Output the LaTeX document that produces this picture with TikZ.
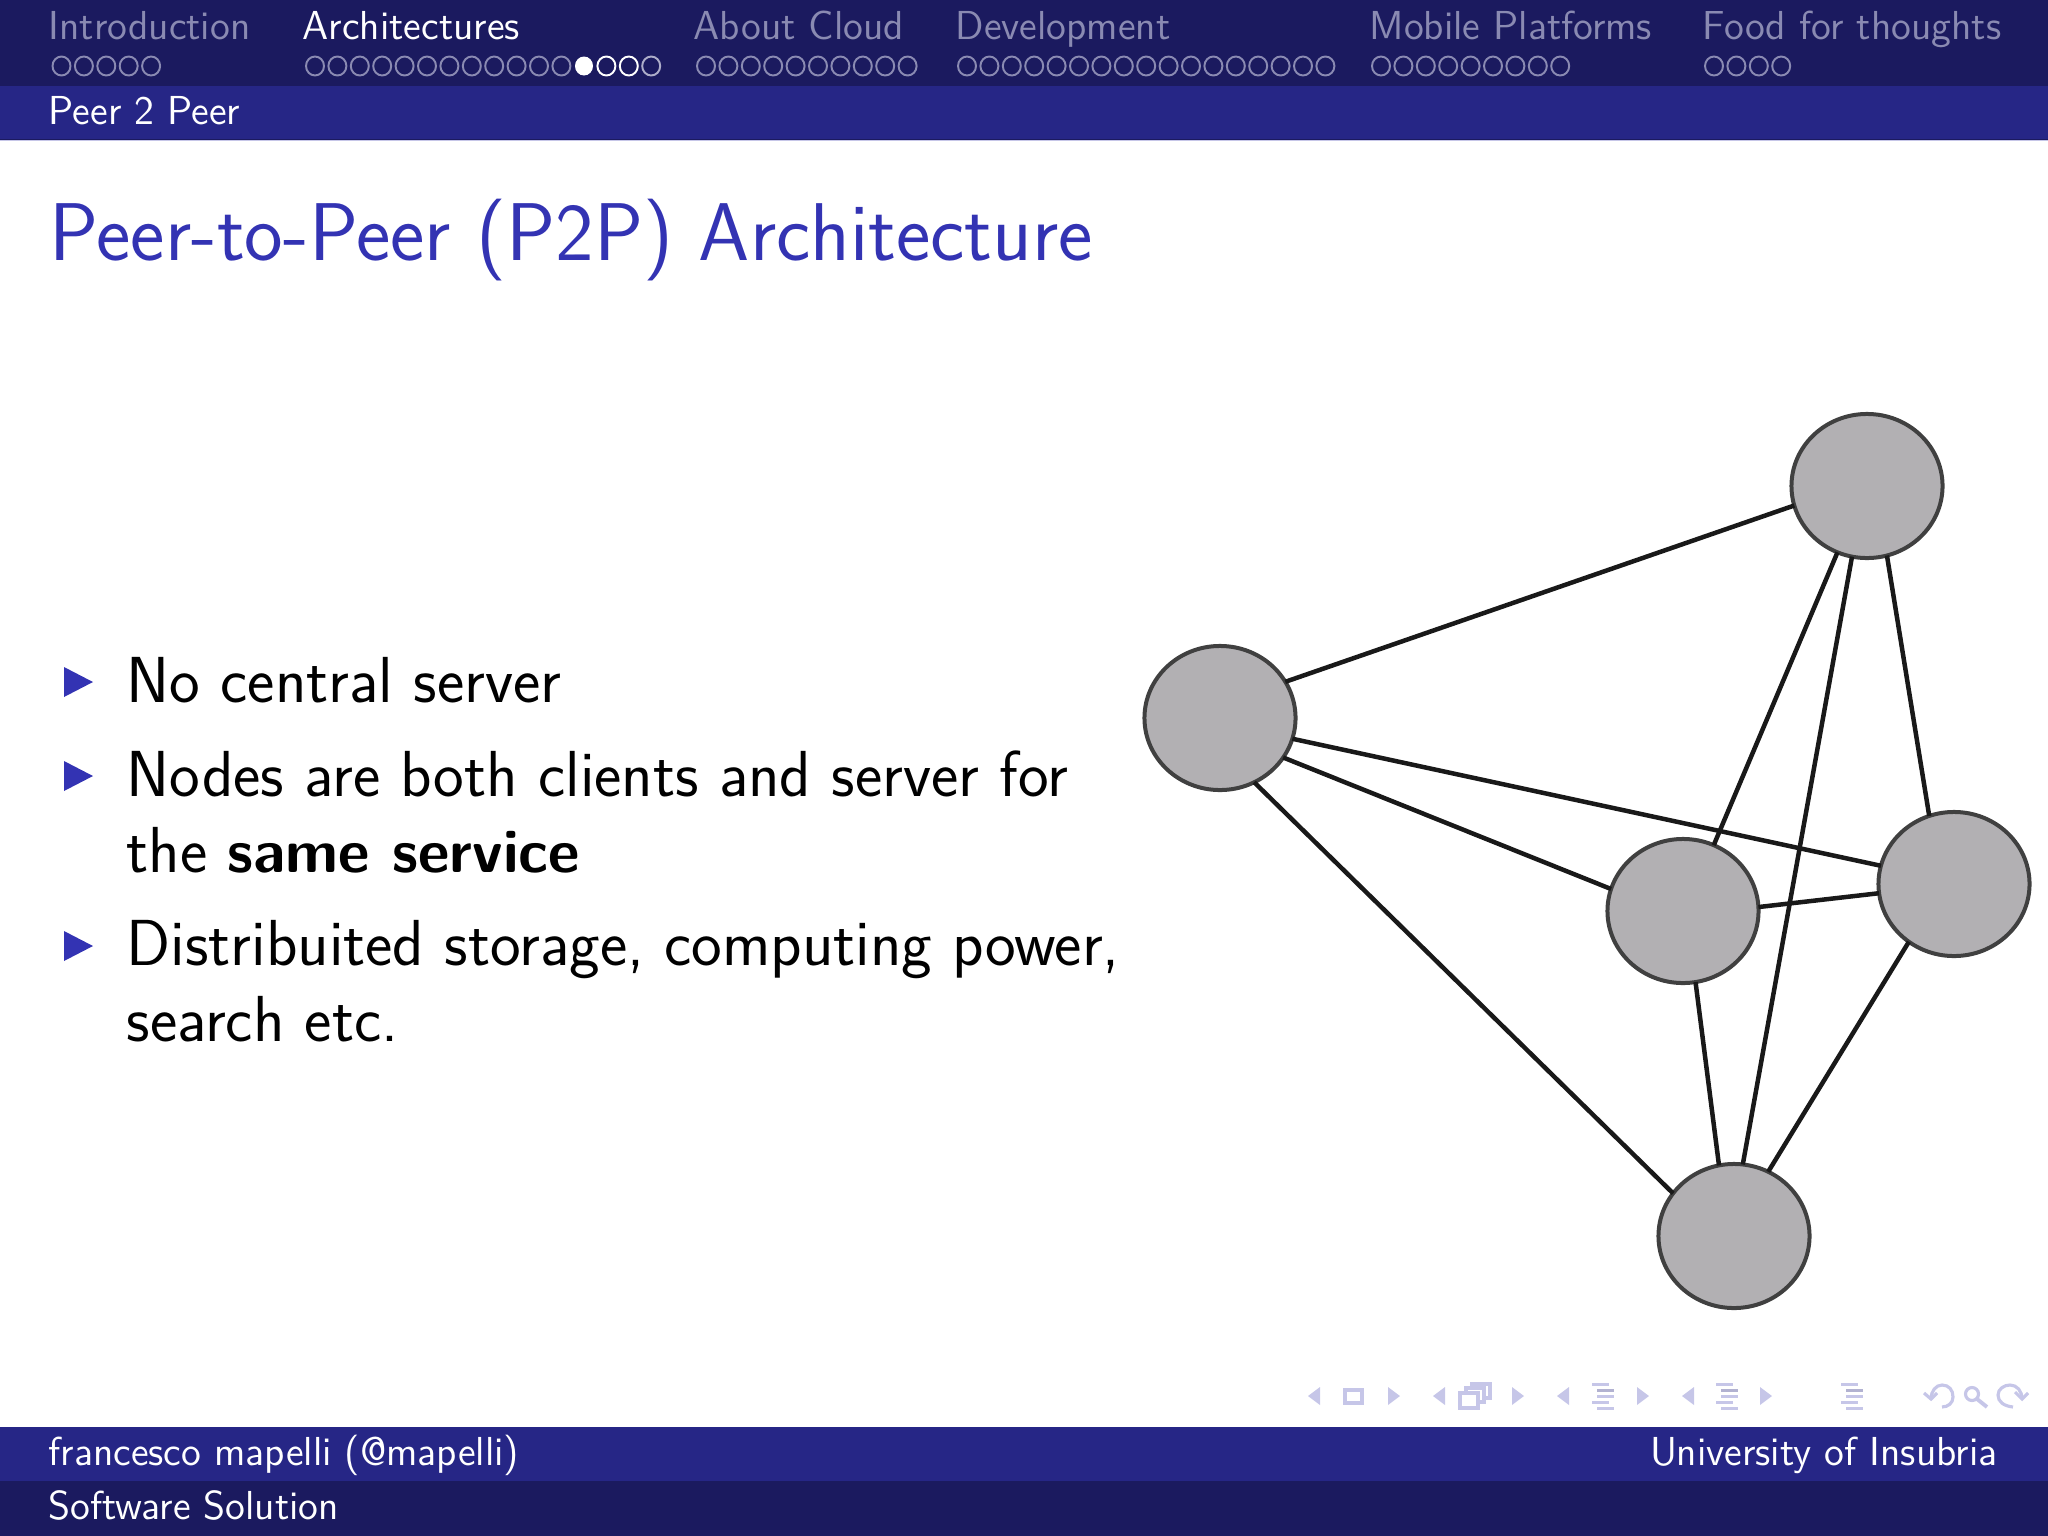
\documentclass[tikz,border=0pt]{standalone}
\usepackage{amssymb}
\usetikzlibrary{shapes.geometric}
\definecolor{bardark}{HTML}{1B1A5F}
\definecolor{barmid}{HTML}{262686}
\definecolor{navdim}{HTML}{8A8AB2}
\definecolor{titleblue}{HTML}{3333B3}
\definecolor{navsym}{HTML}{C6C6E8}
\definecolor{peerfill}{HTML}{B2B0B3}
\definecolor{peerline}{HTML}{404040}
\tikzset{
  peer/.style={ellipse, draw=peerline, fill=peerfill, line width=0.4mm, minimum width=1.51cm, minimum height=1.44cm, inner sep=0pt, outer sep=0pt},
  link/.style={draw=black!90, line width=0.45mm},
  navtxt/.style={anchor=base west, inner sep=0pt, text=navdim, font=\fontsize{11.5}{13}\selectfont\sffamily},
  bartxt/.style={anchor=base west, inner sep=0pt, text=white, font=\fontsize{11.5}{13}\selectfont\sffamily},
  itemtxt/.style={anchor=base west, inner sep=0pt, text=black, font=\fontsize{18.5}{21}\selectfont\sffamily},
  marker/.style={fill=titleblue},
  navicon/.style={fill=navsym, draw=none},
  navedge/.style={draw=navsym, line width=0.9pt}
}
\newcommand{\navdots}[3]{% first centre, count, colour
  \foreach \k in {1,...,#2}
    \draw[#3, line width=0.55pt] ({#1+(\k-1)*22.4},66) ellipse (9 and 9.5);
}
\newcommand{\itemtri}[1]{\fill[marker] (64,#1-15) -- (93,#1) -- (64,#1+15) -- cycle;}
\newcommand{\navl}[1]{\fill[navicon] (#1+12,1387) -- (#1,1396) -- (#1+12,1405) -- cycle;}
\newcommand{\navr}[1]{\fill[navicon] (#1,1387) -- (#1+12,1396) -- (#1,1405) -- cycle;}
\newcommand{\navlines}[1]{
  \fill[navicon] (#1,1383) rectangle (#1+17,1385.5);
  \fill[navsym!90!black] (#1+5,1389) rectangle (#1+22,1392);
  \fill[navicon] (#1+5,1395) rectangle (#1+22,1397.5);
  \fill[navicon] (#1,1401) rectangle (#1+17,1403.5);
  \fill[navicon] (#1+5,1407) rectangle (#1+22,1409.5);
}
\begin{document}
\begin{tikzpicture}[x=0.01cm, y=-0.01cm]
\useasboundingbox (0,0) rectangle (2048,1536);
% bars
\fill[bardark] (0,0) rectangle (2048,86);
\fill[barmid] (0,86) rectangle (2048,139);
\fill[bardark] (0,139) rectangle (2048,140);
\fill[navsym] (0,140) rectangle (2048,141);
\fill[barmid] (0,1427) rectangle (2048,1481);
\fill[bardark] (0,1481) rectangle (2048,1536);

% sections
\node[navtxt] (secintro) at (48,39) {Introduction};
\node[bartxt] (secarch) at (302,39) {Architectures};
\node[navtxt] (seccloud) at (693,39) {About Cloud};
\node[navtxt] (secdev) at (955,39) {Development};
\node[navtxt] (secmobile) at (1369,39) {Mobile Platforms};
\node[navtxt] (secfood) at (1702,39) {Food for thoughts};

\navdots{61.5}{5}{navdim}
\navdots{315}{12}{navdim}
\fill[white] (584,66) ellipse (9 and 9.5);
\draw[white, line width=0.55pt] (606.4,66) ellipse (9 and 9.5);
\draw[white, line width=0.55pt] (628.8,66) ellipse (9 and 9.5);
\draw[navdim!70!white, line width=0.55pt] (651.2,66) ellipse (9 and 9.5);
\navdots{706}{10}{navdim}
\navdots{967}{17}{navdim}
\navdots{1381}{9}{navdim}
\navdots{1714}{4}{navdim}

\node[bartxt] (subsec) at (48,124) {Peer 2 Peer};

% title
\node[anchor=base west, inner sep=0pt, text=titleblue, font=\fontsize{23.3}{26}\selectfont\sffamily] (slidetitle) at (49,260) {Peer-to-Peer (P2P) Architecture};

% items
\itemtri{682}
\node[itemtxt] (itemone) at (126,702) {No central server};
\itemtri{776}
\node[itemtxt] (itemtwo) at (126,796) {Nodes are both clients and server for};
\node[itemtxt] (itemtwob) at (126,872) {the \textbf{\fontsize{17.4}{21}\selectfont same service}};
\itemtri{946}
\node[itemtxt] (itemthree) at (126,965) {Distribuited storage, computing power,};
\node[itemtxt] (itemthreeb) at (126,1041) {search etc.};

% peers
\node[peer] (top) at (1867,486) {};
\node[peer] (left) at (1220,718) {};
\node[peer] (mid) at (1683,911) {};
\node[peer] (right) at (1954,884) {};
\node[peer] (bottom) at (1734,1236) {};

\draw[link] (left.29) -- (top.195.7);
\draw[link] (left.-16.6) -- (right.166.4);
\draw[link] (left.-32.6) -- (mid.163.1);
\draw[link] (left.-62.1) -- (bottom.145);
\draw[link] (top.246.9) -- (mid.65.2);
\draw[link] (top.258.9) -- (bottom.83.9);
\draw[link] (top.-74.5) -- (right.110.3);
\draw[link] (mid.3.9) -- (right.187.8);
\draw[link] (mid.-80.9) -- (bottom.102.5);
\draw[link] (right.232.7) -- (bottom.62.1);

% navigation symbols
\navl{1308}
\draw[navedge] (1345,1390) rectangle (1362,1403);
\navr{1388}
\navl{1433}
\draw[navedge] (1472,1384) rectangle (1490,1398);
\draw[navedge, fill=white] (1466,1388) rectangle (1484,1402);
\draw[navedge, fill=white] (1460,1393) rectangle (1478,1408);
\navr{1512}
\navl{1557}
\navlines{1592}
\navr{1637}
\navl{1682}
\navlines{1716}
\navr{1760}
\navlines{1841}
\draw[navedge] (1924,1393) -- (1931,1399) -- (1937,1393);
\draw[navedge] (1931,1399) .. controls (1931,1391) and (1936,1385) .. (1942,1385) .. controls (1949,1385) and (1953,1390) .. (1953,1397) .. controls (1953,1403) and (1948,1407) .. (1942,1407);
\draw[navedge] (1972,1394) ellipse (6.5 and 6.5);
\draw[navsym, line width=1.1pt] (1977,1399) -- (1987,1407);
\draw[navedge] (2013,1407) .. controls (2004,1406) and (1998,1402) .. (1998,1395) .. controls (1998,1389) and (2004,1385) .. (2010,1385) .. controls (2017,1385) and (2022,1391) .. (2022,1399);
\draw[navedge] (2015,1392) -- (2022,1399) -- (2028,1393);

% footer
\node[bartxt] (author) at (48,1465) {francesco mapelli (@mapelli)};
\node[bartxt, anchor=base east] (school) at (1998,1465) {University of Insubria};
\node[bartxt] (company) at (48,1519) {Software Solution};
\end{tikzpicture}
\end{document}
